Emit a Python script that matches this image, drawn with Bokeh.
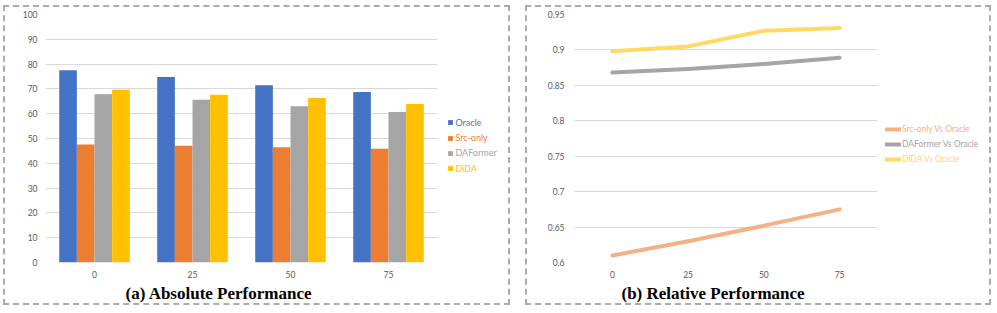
from bokeh.plotting import figure
from bokeh.models import (Range1d, FixedTicker, Legend, LegendItem, BoxAnnotation,
                          NumeralTickFormatter, ColumnDataSource, Title)
from bokeh.layouts import row
from bokeh.embed import file_html
from bokeh.resources import INLINE

# ---------------- data ----------------
categories = ["0", "25", "50", "75"]
series_names = ["Oracle", "Src-only", "DAFormer", "DiDA"]
oracle = [77.5, 74.8, 71.5, 68.7]
src_only = [47.6, 47.1, 46.5, 45.9]
daformer = [67.8, 65.6, 63.0, 60.7]
dida = [69.7, 67.6, 66.3, 63.9]
abs_y_ticks = [0, 10, 20, 30, 40, 50, 60, 70, 80, 90, 100]

rel_names = ["Src-only Vs Oracle", "DAFormer Vs Oracle", "DiDA Vs Oracle"]
rel_src = [0.610, 0.630, 0.652, 0.675]
rel_daf = [0.868, 0.873, 0.880, 0.889]
rel_dida = [0.898, 0.905, 0.927, 0.931]
rel_y_ticks = [0.6, 0.65, 0.7, 0.75, 0.8, 0.85, 0.9, 0.95]

title_a = "(a) Absolute Performance"
title_b = "(b) Relative Performance"

bar_colors = ["#4472C4", "#ED7D31", "#A5A5A5", "#FFC000"]
line_colors = ["#F4B183", "#A5A5A5", "#FFD966"]

TICK_FONT = "Lato"
GRID = "#D9D9D9"
BORDER_CSS = {"outline": "2px dashed #ABABAB", "outline-offset": "-2px"}

n = len(categories)
xs = [i + 0.5 for i in range(n)]          # category centres on the numeric axis
x_labels = {x: c for x, c in zip(xs, categories)}


def style_axes(p, y_standoff):
    for ax in (p.xaxis[0], p.yaxis[0]):
        ax.axis_line_color = None
        ax.major_tick_line_color = None
        ax.minor_tick_line_color = None
        ax.major_tick_out = 0
        ax.major_tick_in = 0
        ax.minor_tick_out = 0
        ax.minor_tick_in = 0
        ax.major_label_text_font = TICK_FONT
        ax.major_label_text_font_size = "8.5px"
        ax.major_label_text_color = "#595959"
    p.xaxis[0].ticker = FixedTicker(ticks=xs)
    p.xaxis[0].major_label_overrides = x_labels
    p.xaxis[0].major_label_standoff = 8
    p.yaxis[0].major_label_standoff = y_standoff
    p.xgrid.grid_line_color = None
    p.ygrid.grid_line_color = GRID
    p.ygrid.grid_line_width = 1
    p.outline_line_color = None
    p.border_fill_color = None
    # hide the grid to the right of the last category (legend area)
    p.add_layout(BoxAnnotation(left=n, fill_color="white", fill_alpha=1,
                               line_color=None, level="underlay"))


def add_title(p, text, offset):
    p.add_layout(Title(text=text, align="left", offset=offset, standoff=2,
                       text_font="Liberation Serif", text_font_style="bold",
                       text_font_size="17px", text_color="#000000"), "below")


def single_legend(p, label, renderer, loc, color, gw, gh, lh, standoff, fs):
    leg = Legend(items=[LegendItem(label=label, renderers=[renderer])],
                 location=loc, orientation="vertical",
                 glyph_width=gw, glyph_height=gh, label_height=lh, spacing=0,
                 label_standoff=standoff, padding=0, margin=0,
                 border_line_color=None, background_fill_alpha=0,
                 label_text_font=TICK_FONT, label_text_font_size=fs,
                 label_text_color=color)
    p.add_layout(leg, "center")


# ---------------- (a) bar chart ----------------
p1 = figure(width=507, height=300, x_range=Range1d(0, 460 / 98), y_range=Range1d(0, 100),
            output_backend="svg", toolbar_location=None,
            min_border_left=42, min_border_right=5, min_border_top=9,
            min_border_bottom=43, margin=(5, 0, 0, 3))
p1.styles = BORDER_CSS
p1.yaxis[0].ticker = FixedTicker(ticks=abs_y_ticks)
style_axes(p1, 8)

offsets = [-0.27, -0.09, 0.09, 0.27]
bar_renderers = []
for vals, off, color in zip([oracle, src_only, daformer, dida], offsets, bar_colors):
    src = ColumnDataSource(dict(x=[x + off for x in xs], top=vals))
    r = p1.vbar(x="x", top="top", width=0.18, source=src,
                fill_color=color, line_color=None)
    bar_renderers.append(r)

leg_a_centres = [122.3, 137.6, 152.9, 168.2]
for name, r, color, c in zip(series_names, bar_renderers, bar_colors, leg_a_centres):
    single_legend(p1, name, r, (402.4, 262 - (c + 6)), color, 6, 6, 12, 2, "9px")

add_title(p1, title_a, 80)

# ---------------- (b) line chart ----------------
p2 = figure(width=466, height=300, x_range=Range1d(0, 411 / 75.75),
            y_range=Range1d(0.6, 0.95), output_backend="svg", toolbar_location=None,
            min_border_left=49, min_border_right=6, min_border_top=9,
            min_border_bottom=43, margin=(5, 0, 0, 15))
p2.styles = BORDER_CSS
p2.yaxis[0].ticker = FixedTicker(ticks=rel_y_ticks)
p2.yaxis[0].formatter = NumeralTickFormatter(format="0.0[0]")
style_axes(p2, 10)

line_renderers = []
for vals, color in zip([rel_src, rel_daf, rel_dida], line_colors):
    r = p2.line(x=xs, y=vals, line_color=color, line_width=4,
                line_cap="round", line_join="round")
    line_renderers.append(r)

leg_b_centres = [129.3, 144.3, 159.3]
for name, r, color, c in zip(rel_names, line_renderers, line_colors, leg_b_centres):
    single_legend(p2, name, r, (311, 262 - (c + 6)), color, 16, 12, 12, 1, "8.5px")

add_title(p2, title_b, 47)

layout = row(p1, p2)
open("out.html", "w").write(file_html(layout, INLINE))
